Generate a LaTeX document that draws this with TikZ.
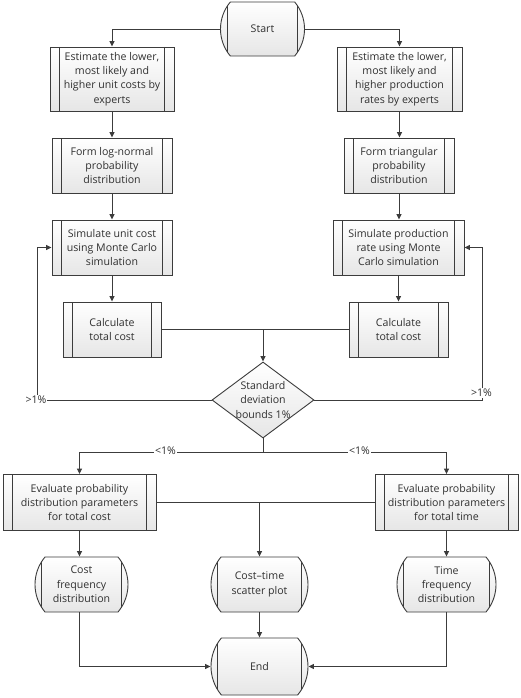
\documentclass[tikz,border=0pt]{standalone}
\usepackage{fontspec}
\setmainfont{Open Sans}
\usetikzlibrary{shapes.geometric,shapes.misc,arrows.meta}
\definecolor{ln}{HTML}{3C3C3C}
\definecolor{fillbot}{HTML}{E6E6E6}
\definecolor{txt}{HTML}{303030}
\begin{document}
\begin{tikzpicture}[x=1pt,y=-1pt,
  txtfont/.style={font=\fontsize{10.6}{14.3}\selectfont, text=txt},
  base/.style={draw=ln, line width=0.9pt, top color=white, bottom color=fillbot,
    txtfont, align=center, inner sep=0pt},
  proc/.style={base, rectangle,
    path picture={\draw[ln,line width=0.9pt]
      ([xshift=9.5pt]path picture bounding box.north west) -- ([xshift=9.5pt]path picture bounding box.south west)
      ([xshift=-9.5pt]path picture bounding box.north east) -- ([xshift=-9.5pt]path picture bounding box.south east);}},
  term/.style={base, rounded rectangle, rounded rectangle arc length=80,
    path picture={\draw[ln,line width=0.9pt]
      ([xshift=10pt]path picture bounding box.north west) -- ([xshift=10pt]path picture bounding box.south west)
      ([xshift=-10pt]path picture bounding box.north east) -- ([xshift=-10pt]path picture bounding box.south east);}},
  dec/.style={base, diamond},
  con/.style={draw=ln, line width=0.9pt},
  arr/.style={con, -{Triangle[length=5.5pt,width=5pt]}},
  lbl/.style={txtfont, fill=white, inner sep=1pt}
]
\useasboundingbox[fill=white] (0,0) rectangle (520,698);

% top
\node[term, minimum width=81, minimum height=54] (start) at (262.5,29) {Start};
\node[proc, minimum width=124, minimum height=64] (L1) at (112,79)
  {Estimate the lower,\\most likely and\\higher unit costs by\\experts};
\node[proc, minimum width=125, minimum height=64] (R1) at (399.5,79)
  {Estimate the lower,\\most likely and\\higher production\\rates by experts};
\node[proc, minimum width=120, minimum height=55] (L2) at (112,165.5)
  {Form log-normal\\probability\\distribution};
\node[proc, minimum width=110, minimum height=55] (R2) at (399,165.5)
  {Form triangular\\probability\\distribution};
\node[proc, minimum width=120, minimum height=55] (L3) at (112,247.5)
  {Simulate unit cost\\using Monte Carlo\\simulation};
\node[proc, minimum width=131, minimum height=55] (R3) at (398.5,247.5)
  {Simulate production\\rate using Monte\\Carlo simulation};
\node[proc, minimum width=98, minimum height=55] (L4) at (112,329.5)
  {Calculate\\total cost};
\node[proc, minimum width=99, minimum height=55] (R4) at (398.5,329.5)
  {Calculate\\total cost};
\node[dec, minimum width=102, minimum height=76,
  label={[txtfont, align=center]center:Standard\\deviation\\bounds 1\%}] (D) at (263,400) {};

% bottom
\node[proc, minimum width=153, minimum height=56] (L5) at (79.5,502.5)
  {Evaluate probability\\distribution parameters\\for total cost};
\node[proc, minimum width=143, minimum height=56] (R5) at (446.5,502.5)
  {Evaluate probability\\distribution parameters\\for total time};
\node[term, minimum width=93, minimum height=55] (CF) at (81.5,584.5)
  {Cost\\frequency\\distribution};
\node[term, minimum width=97, minimum height=55] (CT) at (259.5,584.5)
  {Cost--time\\scatter plot};
\node[term, minimum width=99, minimum height=55] (TF) at (446.5,584.5)
  {Time\\frequency\\distribution};
\node[term, minimum width=97, minimum height=57] (End) at (259.5,666.5) {End};

% connectors
\draw[arr] (start.west) -| (L1.north);
\draw[arr] (start.east) -| (R1.north);
\draw[arr] (L1.south) -- (L2.north);
\draw[arr] (R1.south) -- (R1.south |- R2.north);
\draw[arr] (L2.south) -- (L3.north);
\draw[arr] (R2.south) -- (R2.south |- R3.north);
\draw[arr] (L3.south) -- (L4.north);
\draw[arr] (R3.south) -- (R3.south |- R4.north);
\draw[con] (L4.east) -- (R4.west);
\draw[arr] (D.north |- L4.east) -- (D.north);

\draw[arr] (D.west) -- ++(-174,0) |- (L3.west);
\draw[arr] (D.east) -- ++(168,0) |- (R3.east);
\node[lbl] (gl) at (36,400) {>1\%};
\node[lbl] (gr) at (481.5,393) {>1\%};

\coordinate (j) at (263,452);
\draw[con] (D.south) -- (j);
\draw[arr] (j) -| (L5.north);
\draw[arr] (j) -| (R5.north);
\node[lbl] (ll) at (165.5,451) {<1\%};
\node[lbl] (lr) at (359.5,451) {<1\%};

\draw[con] (L5.east) -- (R5.west);
\draw[arr] (CT.north |- L5.east) -- (CT.north);
\draw[arr] (L5.south) -- (L5.south |- CF.north);
\draw[arr] (R5.south) -- (R5.south |- TF.north);
\draw[arr] (CT.south) -- (End.north);
\draw[arr] (L5.south |- CF.south) |- (End.west);
\draw[arr] (R5.south |- TF.south) |- (End.east);
\end{tikzpicture}
\end{document}
